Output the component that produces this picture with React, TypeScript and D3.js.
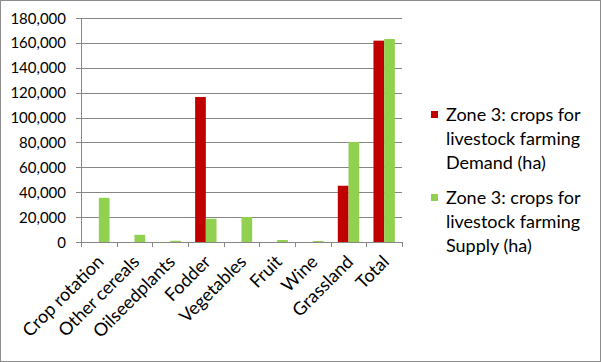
import React from "react";
import * as d3 from "d3";

const categories = ["Crop rotation", "Other cereals", "Oilseedplants", "Fodder", "Vegetables", "Fruit", "Wine", "Grassland", "Total"];
const demand = [0, 0, 0, 116500, 0, 0, 0, 45200, 161800];
const supply = [35500, 5800, 1000, 18700, 20100, 1600, 800, 80400, 163100];
const yTicks = [0, 20000, 40000, 60000, 80000, 100000, 120000, 140000, 160000, 180000];
const seriesNames = [
  ["Zone 3: crops for", "livestock farming", "Demand (ha)"],
  ["Zone 3: crops for", "livestock farming", "Supply (ha)"],
];
const colors = ["#C00000", "#92D050"];

const W = 601, H = 362;
const left = 81, right = 402, top = 18, bottom = 242;
const font = "Lato, 'Open Sans', sans-serif";

export default function App() {
  const x = d3.scaleBand<string>().domain(categories).range([left, right]).paddingInner(0).paddingOuter(0);
  const y = d3.scaleLinear().domain([0, 180000]).range([bottom, top]);
  const bw = x.bandwidth() * 0.3;
  const fmt = d3.format(",");
  return (
    <svg width={W} height={H} style={{ position: "absolute", left: 0, top: 0 }}>
      <rect x={0.5} y={0.5} width={W - 1} height={H - 1} fill="#fff" stroke="#8c8c8c" />
      {yTicks.map((t) => (
        <g key={t}>
          <line x1={left - 5} x2={right} y1={Math.round(y(t)) + 0.5} y2={Math.round(y(t)) + 0.5} stroke="#868686" />
          <text x={66} y={y(t) + 5.5} textAnchor="end" fontFamily={font} fontSize={15} fill="#000">{fmt(t)}</text>
        </g>
      ))}
      <line x1={left + 0.5} x2={left + 0.5} y1={top} y2={bottom + 5} stroke="#868686" />
      {categories.map((c, i) => (
        <line key={"tk" + i} x1={Math.round(x(c)! + x.bandwidth()) + 0.5} x2={Math.round(x(c)! + x.bandwidth()) + 0.5} y1={bottom} y2={bottom + 5} stroke="#868686" />
      ))}
      {categories.map((c, i) => {
        const cx = x(c)! + x.bandwidth() / 2;
        return (
          <g key={c}>
            {demand[i] > 0 && <rect x={cx - bw} y={y(demand[i])} width={bw} height={bottom - y(demand[i])} fill={colors[0]} />}
            {supply[i] > 0 && <rect x={cx} y={y(supply[i])} width={bw} height={bottom - y(supply[i])} fill={colors[1]} />}
            <text transform={`translate(${cx + 6},${bottom + 21}) rotate(-45)`} textAnchor="end" fontFamily={font} fontSize={18} fill="#000">{c}</text>
          </g>
        );
      })}
      {seriesNames.map((lines, s) => {
        const y0 = s === 0 ? 121 : 204;
        return (
          <g key={s}>
            <rect x={431} y={y0 - 10} width={7} height={7} fill={colors[s]} />
            {lines.map((l, k) => (
              <text key={k} x={446} y={y0 + k * 24} fontFamily={font} fontSize={18} fill="#000">{l}</text>
            ))}
          </g>
        );
      })}
    </svg>
  );
}
